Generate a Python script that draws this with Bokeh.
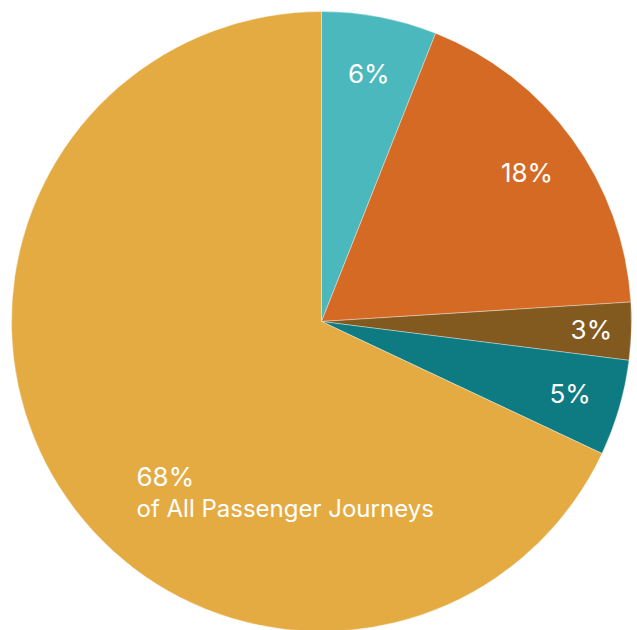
import math
from bokeh.plotting import figure
from bokeh.models import Range1d, ColumnDataSource
from bokeh.core.properties import value
from bokeh.embed import file_html
from bokeh.resources import INLINE

labels = ["6%", "18%", "3%", "5%", "68%"]
shares = [6, 18, 3, 5, 68]
colors = ["#4BB8BE", "#D56A25", "#82591E", "#0E7A82", "#E4AB43"]
caption = "of All Passenger Journeys"

W, H = 637, 630
cx, cy, R = 321, H - 321, 310

total = sum(shares)
starts, ends, mids = [], [], []
acc = 0.0
for s in shares:
    a0 = math.pi / 2 - 2 * math.pi * acc / total
    acc += s
    a1 = math.pi / 2 - 2 * math.pi * acc / total
    starts.append(a0)
    ends.append(a1)
    mids.append((a0 + a1) / 2)

src = ColumnDataSource(dict(start=starts, end=ends, color=colors))

p = figure(width=W, height=H, output_backend="svg", toolbar_location=None,
           x_range=Range1d(0, W), y_range=Range1d(0, H), min_border=0)
p.outline_line_color = None
p.axis.visible = False
p.grid.visible = False
p.background_fill_color = "white"

p.wedge(x=cx, y=cy, radius=R, start_angle="start", end_angle="end",
        direction="clock", fill_color="color", line_color="white",
        line_alpha=0.45, line_width=0.8, source=src)

label_r = [252, 254, 270, 259]
lx, ly = [], []
for i in range(4):
    lx.append(cx + label_r[i] * math.cos(mids[i]))
    ly.append(cy + label_r[i] * math.sin(mids[i]))
p.text(x=lx, y=ly, text=labels[:4], text_color="white",
       text_font=value("Inter"), text_font_size="26px",
       text_align="center", text_baseline="middle")

p.text(x=[136, 136], y=[H - 476, H - 508], text=[labels[4], caption],
       text_color="white", text_font=value("Inter"),
       text_font_size=["26px", "24px"], text_align="left",
       text_baseline="middle")

open("out.html", "w").write(file_html(p, INLINE))
